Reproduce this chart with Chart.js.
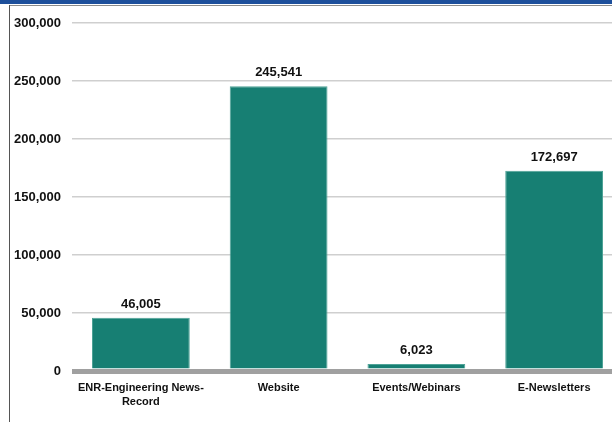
<!DOCTYPE html>
<html>
<head>
<meta charset="utf-8">
<script src="https://cdn.jsdelivr.net/npm/chart.js@4"></script>
<style>
  body { margin: 0; background: #fff; }
  #wrap { position: relative; width: 612px; height: 422px; overflow: hidden; }
  #topbar { position: absolute; left: 0; top: 0; width: 612px; height: 4px; background: #1d4f9b; }
  #frameTop { position: absolute; left: 9px; top: 5px; width: 603px; height: 1px; background: #8a8a8a; }
  #frameLeft { position: absolute; left: 9px; top: 5px; width: 1px; height: 417px; background: #555; }
  #box { position: absolute; left: 0; top: 0; width: 624px; height: 422px; }
</style>
</head>
<body>
<div id="wrap">
  <div id="box"><canvas id="myChart"></canvas></div>
  <div id="topbar"></div>
  <div id="frameTop"></div>
  <div id="frameLeft"></div>
</div>
<script>
const categories = [['ENR-Engineering News-', 'Record'], 'Website', 'Events/Webinars', 'E-Newsletters'];
const values = [46005, 245541, 6023, 172697];
const yTicks = [0, 50000, 100000, 150000, 200000, 250000, 300000];

const fontFam = '"Liberation Sans", Arial, sans-serif';

// draw the value above each bar
const valueLabels = {
  id: 'valueLabels',
  afterDatasetsDraw(chart) {
    const ctx = chart.ctx;
    const meta = chart.getDatasetMeta(0);
    ctx.save();
    ctx.font = 'bold 13px ' + fontFam;
    ctx.fillStyle = '#111';
    ctx.textAlign = 'center';
    ctx.textBaseline = 'alphabetic';
    meta.data.forEach((bar, i) => {
      ctx.fillText(values[i].toLocaleString('en-US'), bar.x, bar.y - 10);
    });
    ctx.restore();
  }
};

const ctx = document.getElementById('myChart');

new Chart(ctx, {
  type: 'bar',
  data: {
    labels: categories,
    datasets: [{
      data: values,
      backgroundColor: '#177f73',
      borderColor: '#4fa397',
      borderWidth: 1,
      categoryPercentage: 1,
      barPercentage: 0.71
    }]
  },
  options: {
    responsive: true,
    maintainAspectRatio: false,
    animation: false,
    layout: { padding: { top: 23, right: 1, left: 0, bottom: 0 } },
    plugins: {
      legend: { display: false },
      tooltip: { enabled: false }
    },
    scales: {
      x: {
        grid: { display: false, drawTicks: false },
        border: { display: false },
        ticks: {
          color: '#111',
          padding: 10,
          font: { family: fontFam, size: 11, weight: 'bold', lineHeight: 1.25 },
          maxRotation: 0,
          autoSkip: false
        },
        afterFit(scale) { scale.height = 51; }
      },
      y: {
        min: 0,
        max: 300000,
        afterBuildTicks(scale) { scale.ticks = yTicks.map(v => ({ value: v })); },
        grid: {
          drawTicks: false,
          color: (c) => c.tick && c.tick.value === 0 ? '#a0a0a0' : '#cfcfcf',
          lineWidth: (c) => c.tick && c.tick.value === 0 ? 5 : 1.5
        },
        border: { display: false },
        ticks: {
          color: '#111',
          padding: 11,
          font: { family: fontFam, size: 13, weight: 'bold' },
          callback: (v) => v.toLocaleString('en-US')
        },
        afterFit(scale) { scale.width = 72; }
      }
    }
  },
  plugins: [valueLabels]
});
</script>
</body>
</html>
